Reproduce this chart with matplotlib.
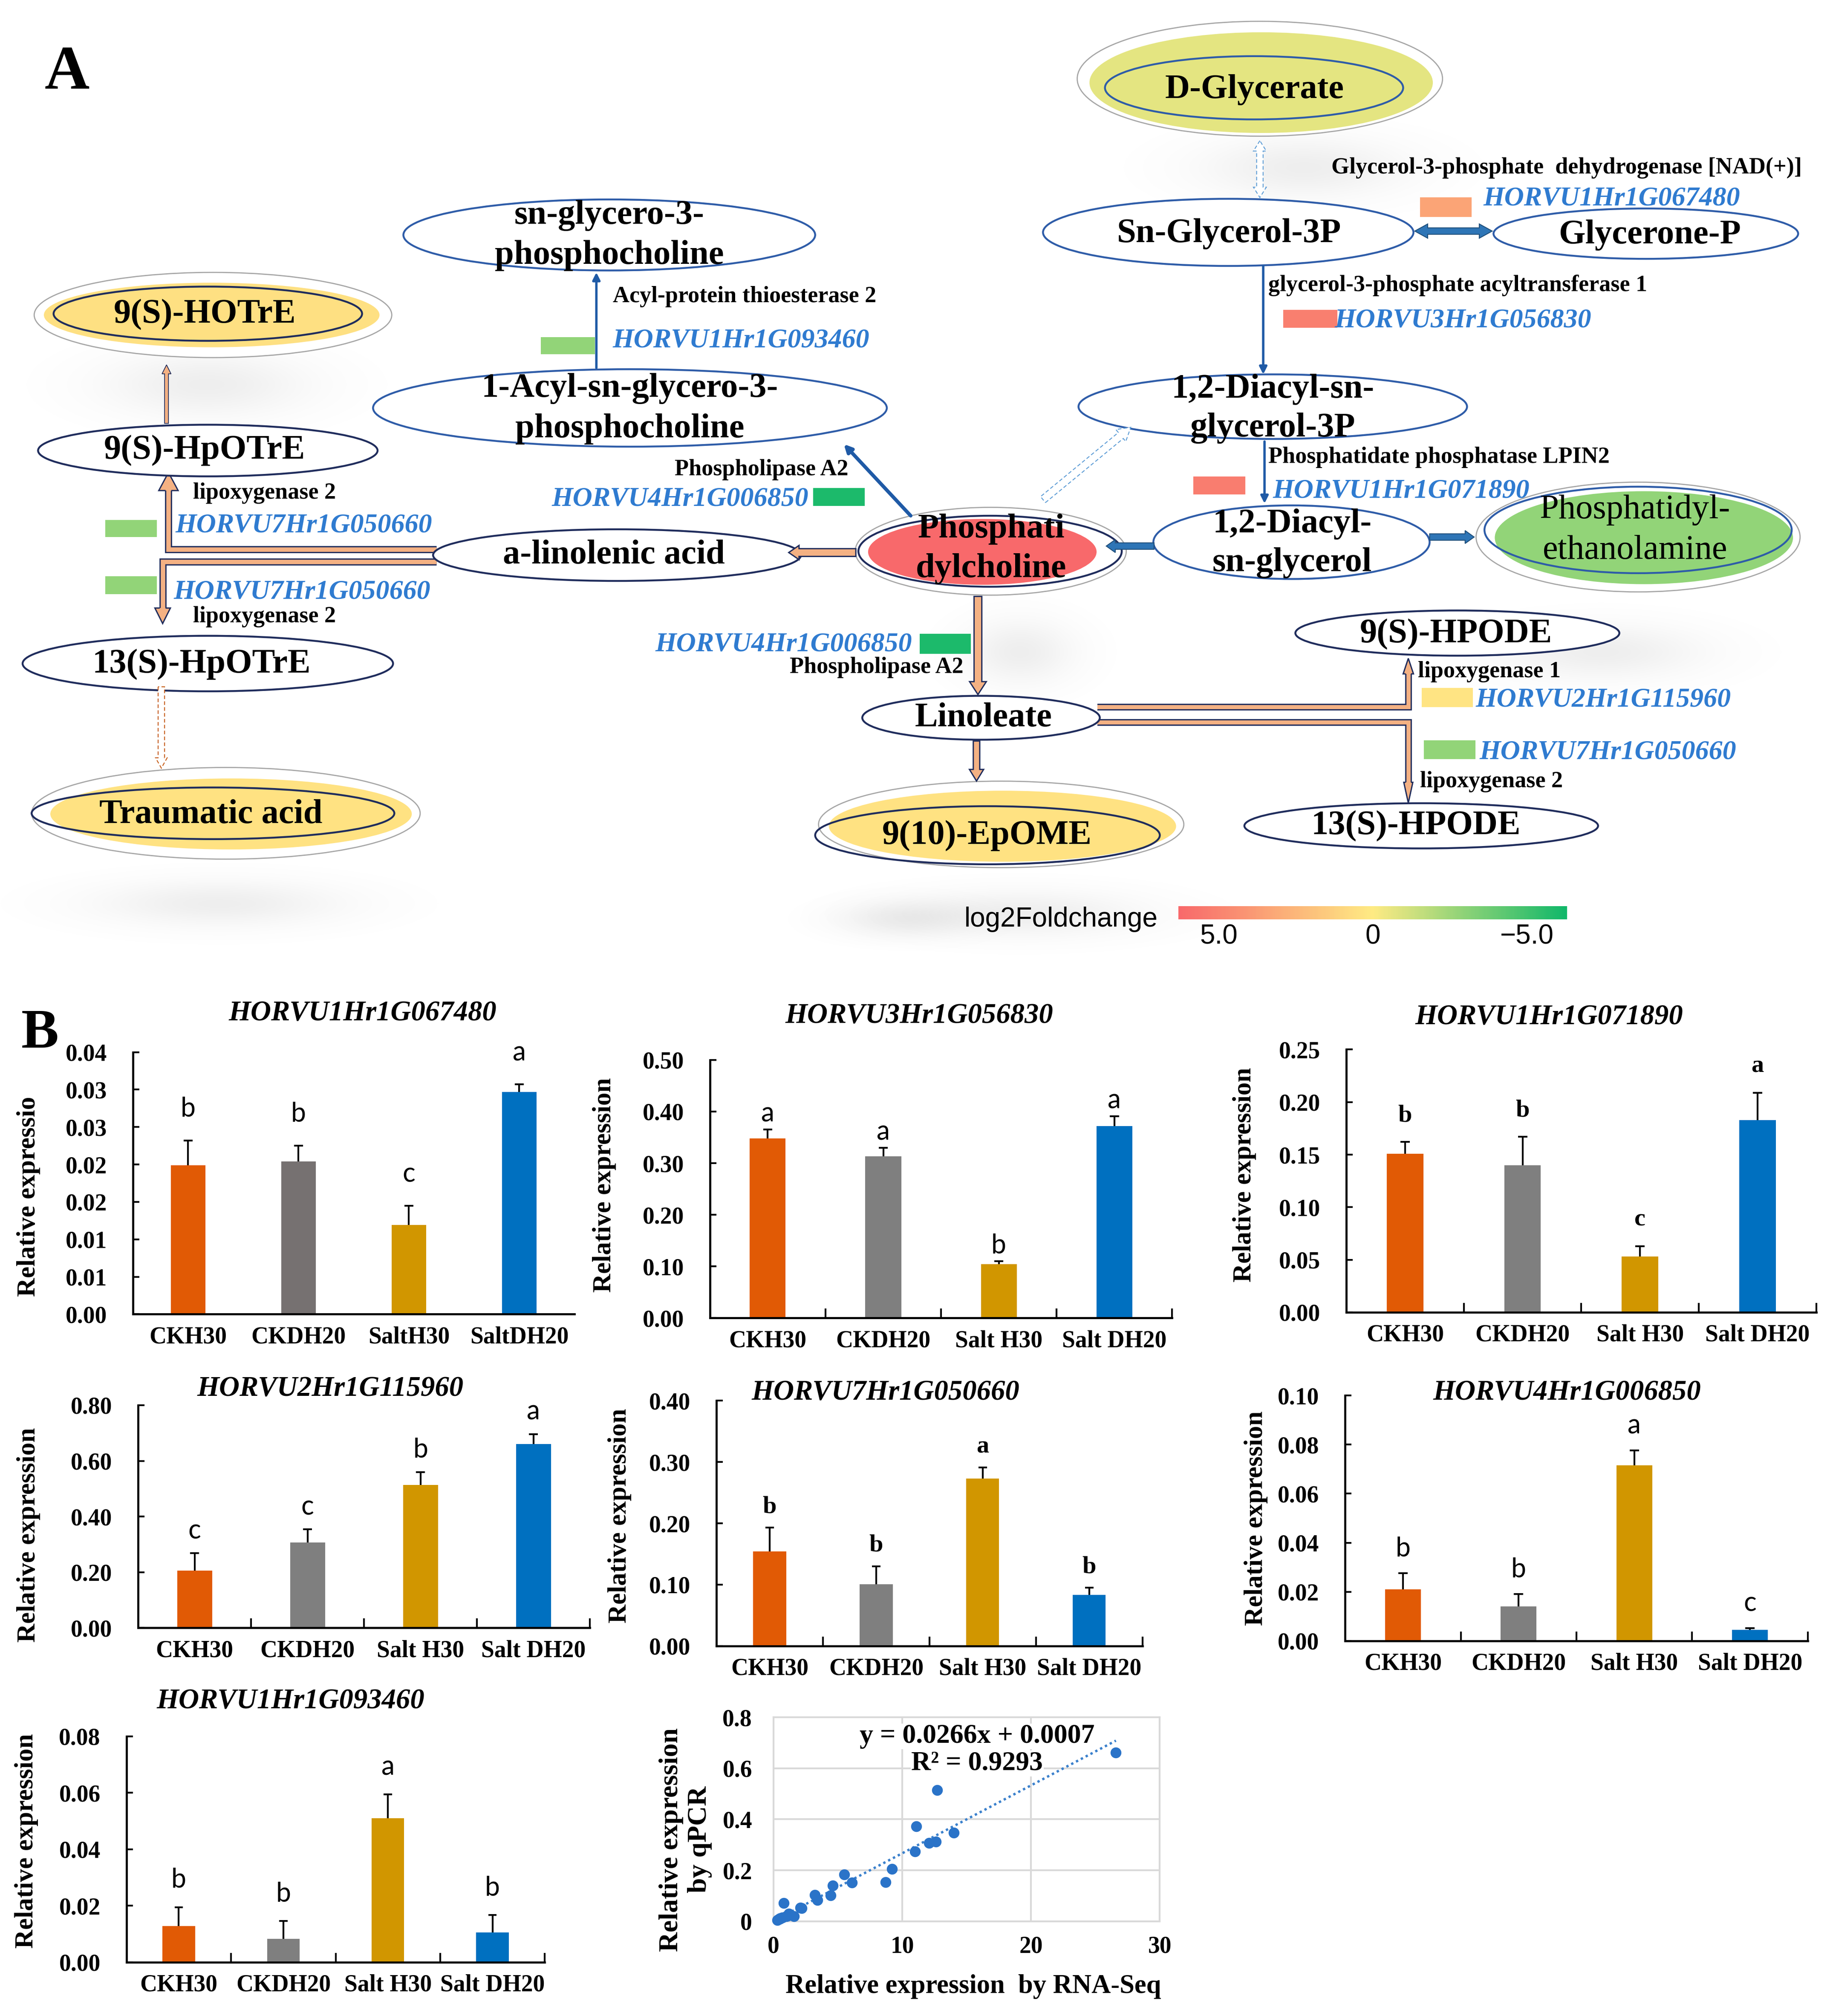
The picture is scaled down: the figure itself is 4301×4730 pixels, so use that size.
import numpy as np
import matplotlib
matplotlib.use('Agg')
import matplotlib.pyplot as plt
from matplotlib.patches import Ellipse, Polygon, Rectangle
from matplotlib.colors import LinearSegmentedColormap, Normalize

W, H = 4301, 4730
K = W / 1420.0            # layout measured on a 1420 px wide preview
PT = K * 72 / 100.0       # one preview unit in points

plt.rcParams['font.family'] = ['Liberation Serif', 'DejaVu Serif']
plt.rcParams['font.weight'] = 'bold'

# ---------------- panel A : log2 fold change ----------------
fc_lim = 6.3
pathway_genes = ['HORVU1Hr1G067480', 'HORVU3Hr1G056830', 'HORVU1Hr1G071890',
                 'HORVU1Hr1G093460', 'HORVU4Hr1G006850', 'HORVU7Hr1G050660',
                 'HORVU2Hr1G115960']
gene_log2fc = [3.4, 5.2, 5.3, -2.9, -6.0, -2.9, 0.3]
metabolites = ['D-Glycerate', '9(S)-HOTrE', 'Traumatic acid', 'Phosphatidylcholine',
               'Phosphatidylethanolamine', '9(10)-EpOME']
metab_log2fc = [-0.7, 0.5, 0.4, 6.3, -2.9, 0.4]
cbar_ticks = [5, 0, -5]
cbar_labels = ['5.0', '0', '\u22125.0']

# ---------------- panel B : qPCR ----------------
cond_short = ['CKH30', 'CKDH20', 'SaltH30', 'SaltDH20']
cond_names = ['CKH30', 'CKDH20', 'Salt H30', 'Salt DH20']
qpcr_genes = ['HORVU1Hr1G067480', 'HORVU3Hr1G056830', 'HORVU1Hr1G071890',
              'HORVU2Hr1G115960', 'HORVU7Hr1G050660', 'HORVU4Hr1G006850',
              'HORVU1Hr1G093460']

mean_067480 = [0.0199, 0.0204, 0.0119, 0.0297]
err_067480 = [0.0033, 0.0021, 0.0026, 0.0010]
sig_067480 = ['b', 'b', 'c', 'a']
mean_056830 = [0.348, 0.313, 0.104, 0.372]
err_056830 = [0.017, 0.017, 0.006, 0.019]
sig_056830 = ['a', 'a', 'b', 'a']
mean_071890 = [0.151, 0.140, 0.053, 0.183]
err_071890 = [0.011, 0.027, 0.010, 0.026]
sig_071890 = ['b', 'b', 'c', 'a']
mean_115960 = [0.206, 0.307, 0.514, 0.661]
err_115960 = [0.062, 0.047, 0.045, 0.035]
sig_115960 = ['c', 'c', 'b', 'a']
mean_050660 = [0.154, 0.101, 0.273, 0.083]
err_050660 = [0.039, 0.029, 0.018, 0.012]
sig_050660 = ['b', 'b', 'a', 'b']
mean_006850 = [0.0210, 0.0141, 0.0715, 0.0044]
err_006850 = [0.0065, 0.0049, 0.0061, 0.0008]
sig_006850 = ['b', 'b', 'a', 'c']
mean_093460 = [0.0128, 0.0083, 0.0510, 0.0105]
err_093460 = [0.0067, 0.0063, 0.0085, 0.0062]
sig_093460 = ['b', 'b', 'a', 'b']

yt_067480 = [0, 0.005, 0.010, 0.015, 0.020, 0.025, 0.030, 0.035]
ytl_067480 = ['0.00', '0.01', '0.01', '0.02', '0.02', '0.03', '0.03', '0.04']
yt_056830 = [0, 0.1, 0.2, 0.3, 0.4, 0.5]
yt_071890 = [0, 0.05, 0.10, 0.15, 0.20, 0.25]
yt_115960 = [0, 0.2, 0.4, 0.6, 0.8]
yt_050660 = [0, 0.1, 0.2, 0.3, 0.4]
yt_006850 = [0, 0.02, 0.04, 0.06, 0.08, 0.10]
yt_093460 = [0, 0.02, 0.04, 0.06, 0.08]

# RNA-seq relative expression for the same genes / conditions (x of the correlation plot)
rnaseq_067480 = [1.6, 1.0, 0.5, 1.2]
rnaseq_056830 = [14.0, 12.6, 3.2, 11.1]
rnaseq_071890 = [6.1, 4.6, 2.1, 5.5]
rnaseq_115960 = [9.2, 12.1, 12.7, 26.6]
rnaseq_050660 = [8.7, 4.45, 11.0, 3.4]
rnaseq_006850 = [1.1, 0.7, 0.8, 0.3]
rnaseq_093460 = [0.6, 0.4, 2.2, 0.5]
trend_slope, trend_icpt = 0.0266, 0.0007

# ---------------- colours ----------------
fc_cmap = LinearSegmentedColormap.from_list('fc', ['#11B86A', '#FFEB84', '#F8696B'])
fc_norm = Normalize(-fc_lim, fc_lim)
gene_col = {g: fc_cmap(fc_norm(v)) for g, v in zip(pathway_genes, gene_log2fc)}
met_col = {m: fc_cmap(fc_norm(v)) for m, v in zip(metabolites, metab_log2fc)}

BLUE = '#2E5CA8'
NAVY = '#1F2C5C'
DBLUE = '#1F5AA6'
ABLUE = '#2E75B6'
ORANGE = '#F4B183'
LBLUE = '#5B9BD5'
BROWN = '#C55A11'
GENE = '#2F7BD0'
RING = '#A6A6A6'

fig = plt.figure(figsize=(W / 100, H / 100), dpi=100)
ax0 = fig.add_axes([0, 0, 1, 1])
ax0.set_axis_off()


def to_fig(x0, y0, x1, y1):
    return [x0 * K / W, 1 - y1 * K / H, (x1 - x0) * K / W, (y1 - y0) * K / H]


def shadow(cx, cy, rx, ry, a=0.13):
    yy, xx = np.mgrid[-1:1:90j, -1:1:180j]
    img = np.zeros((90, 180, 4))
    img[..., :3] = 0.5
    img[..., 3] = a * np.exp(-(xx ** 2 + yy ** 2) * 3.5)
    ax0.imshow(img, extent=[cx - rx, cx + rx, cy + ry, cy - ry], aspect='auto',
               interpolation='bilinear', zorder=0)


def oval(cx, cy, w, h, ec, lw=3.2, fc='white', z=4, alpha=1.0):
    ax0.add_patch(Ellipse((cx, cy), w, h, facecolor=fc, edgecolor=ec, lw=lw,
                          zorder=z, alpha=alpha))


def txt(x, y, s, size=58, ha='center', z=8, **kw):
    ax0.text(x, y, s, fontsize=size, ha=ha, va='center', zorder=z, **kw)


def gene_tag(x, y, gene, rect, ha='left'):
    x0, y0, x1, y1 = rect
    ax0.add_patch(Rectangle((x0, y0), x1 - x0, y1 - y0, facecolor=gene_col[gene],
                            edgecolor='none', zorder=6))
    txt(x, y, gene, size=46, ha=ha, color=GENE, style='italic')


def block_arrow(p0, p1, sw, hw, hl, fc, ec, lw=1.0, ls='-', both=False, z=5):
    p0 = np.array(p0, float)
    p1 = np.array(p1, float)
    d = np.hypot(*(p1 - p0))
    u = (p1 - p0) / d
    n = np.array([-u[1], u[0]])

    def P(s, t):
        return p0 + u * s + n * t
    if both:
        pts = [P(0, 0), P(hl, hw / 2), P(hl, sw / 2), P(d - hl, sw / 2), P(d - hl, hw / 2),
               P(d, 0), P(d - hl, -hw / 2), P(d - hl, -sw / 2), P(hl, -sw / 2), P(hl, -hw / 2)]
    else:
        pts = [P(0, sw / 2), P(d - hl, sw / 2), P(d - hl, hw / 2), P(d, 0),
               P(d - hl, -hw / 2), P(d - hl, -sw / 2), P(0, -sw / 2)]
    ax0.add_patch(Polygon(pts, closed=True, facecolor=fc, edgecolor=ec, lw=lw * PT,
                          ls=ls, joinstyle='miter', zorder=z))


def thin_arrow(p0, p1, lw=4.0, ms=26):
    ax0.annotate('', xy=p1, xytext=p0, zorder=5,
                 arrowprops=dict(arrowstyle='-|>', color=DBLUE, lw=lw, mutation_scale=ms,
                                 shrinkA=0, shrinkB=0))


def channel(pts, w=5.5, hw=14, hl=13):
    p = np.array(pts, float)
    tip = p[-1]
    u = tip - p[-2]
    u = u / np.hypot(*u)
    n = np.array([-u[1], u[0]])
    base = tip - u * hl
    body = p.copy()
    body[-1] = base + u * 0.6
    ax0.plot(body[:, 0], body[:, 1], color=NAVY, lw=w * PT, solid_joinstyle='miter',
             solid_capstyle='butt', zorder=3)
    ax0.plot(body[:, 0], body[:, 1], color=ORANGE, lw=(w - 2.0) * PT, solid_joinstyle='miter',
             solid_capstyle='butt', zorder=3)
    ax0.add_patch(Polygon([base + n * hw / 2, tip, base - n * hw / 2], closed=True,
                          facecolor=ORANGE, edgecolor='none', zorder=3))
    edge = np.array([base + n * w / 2, base + n * hw / 2, tip, base - n * hw / 2, base - n * w / 2])
    ax0.plot(edge[:, 0], edge[:, 1], color=NAVY, lw=1.0 * PT, solid_joinstyle='miter', zorder=3)


# ---------------- panel A ----------------
for cx, cy, rx, ry in [(160, 298, 140, 45), (1010, 130, 140, 42), (790, 505, 75, 45),
                       (1240, 505, 140, 38), (170, 700, 170, 32), (790, 708, 170, 32),
                       (700, 712, 90, 25)]:
    shadow(cx, cy, rx, ry)

txt(52, 57, 'A', size=105)

# D-Glycerate
oval(976, 61, 283, 89, RING, lw=2)
oval(977, 64, 266, 78, 'none', lw=0, fc=met_col['D-Glycerate'], z=4.1)
oval(971.5, 68, 231, 49, BLUE, fc='none', z=4.2)
txt(972, 69.5, 'D-Glycerate')

# glycerol branch
oval(951.5, 180, 287, 52, BLUE)
txt(952, 181, 'Sn-Glycerol-3P')
oval(1275, 181, 236, 39, BLUE)
txt(1278, 182, 'Glycerone-P')
block_arrow((976, 109), (976, 153), 5, 10, 8, 'white', LBLUE, lw=0.7, ls=(0, (4, 2.5)), both=True)
block_arrow((1096, 179), (1156, 179), 5, 11, 10, ABLUE, '#1F4E79', lw=0.7, both=True)
txt(1031.5, 130, 'Glycerol-3-phosphate  dehydrogenase [NAD(+)]', size=39, ha='left')
gene_tag(1149, 154, 'HORVU1Hr1G067480', (1100, 153, 1140, 168))

thin_arrow((978.6, 206), (978.6, 290))
txt(982.6, 221, 'glycerol-3-phosphate acyltransferase 1', size=39, ha='left')
gene_tag(1034, 248.6, 'HORVU3Hr1G056830', (994, 240, 1036, 254))

oval(986, 315, 301, 50, BLUE)
txt(986, 301.6, '1,2-Diacyl-sn-')
txt(986, 331.6, 'glycerol-3P')

thin_arrow((979.6, 342), (979.6, 390))
txt(982.6, 354.4, 'Phosphatidate phosphatase LPIN2', size=39, ha='left')
gene_tag(986, 380.6, 'HORVU1Hr1G071890', (924.5, 369, 964.7, 383))

oval(1000.5, 420, 214, 57, BLUE)
txt(1001, 406, '1,2-Diacyl-')
txt(1001, 436, 'sn-glycerol')

# phosphatidylethanolamine
oval(1269, 416, 251, 85, RING, lw=2)
oval(1273.5, 416.5, 231, 72, 'none', lw=0, fc=met_col['Phosphatidylethanolamine'], z=4.1)
oval(1269, 410.5, 238, 67, BLUE, fc='none', z=4.2)
txt(1266.6, 395, 'Phosphatidyl-', weight='normal')
txt(1266.6, 426.4, 'ethanolamine', weight='normal')
block_arrow((1107.5, 416), (1142, 416), 5, 10, 7, ABLUE, '#1F4E79', lw=0.7)

# phosphatidylcholine
oval(767.5, 427, 210, 68, RING, lw=2)
oval(761, 427.5, 177, 51, 'none', lw=0, fc=met_col['Phosphatidylcholine'], z=4.1)
oval(767, 427, 204, 55, NAVY, fc='none', z=4.2)
txt(767.8, 410, 'Phosphati')
txt(767.8, 440.6, 'dylcholine')
block_arrow((894, 423), (857, 423), 5, 10, 7, ABLUE, '#1F4E79', lw=0.7)
block_arrow((808, 387), (876, 331), 6, 12, 10, 'white', LBLUE, lw=0.7, ls=(0, (4, 2.5)))
thin_arrow((705.5, 399.5), (653.7, 344), lw=6)

# acyl branch
oval(472, 182, 319, 55, BLUE)
txt(472, 167, 'sn-glycero-3-')
txt(472, 198, 'phosphocholine')
oval(488, 316, 398, 60, BLUE)
txt(488, 300.8, '1-Acyl-sn-glycero-3-')
txt(488, 332.4, 'phosphocholine')
thin_arrow((462, 285), (462, 211))
txt(474.6, 229.7, 'Acyl-protein thioesterase 2', size=39, ha='left')
gene_tag(474.6, 263.8, 'HORVU1Hr1G093460', (419, 261, 461, 274.5))
txt(590, 363.9, 'Phospholipase A2', size=39)
gene_tag(626.3, 386.7, 'HORVU4Hr1G006850', (630, 378, 670, 392), ha='right')

# linolenic branch
oval(478, 430, 285, 40, NAVY)
txt(475.5, 430, 'a-linolenic acid')
block_arrow((663, 428), (611, 428), 6, 11, 8, ORANGE, NAVY, lw=1.0)
channel([(338, 425.5), (130.5, 425.5), (130.5, 366)], hw=15, hl=14)
channel([(338, 435), (126, 435), (126, 483)], hw=12, hl=12)
txt(149.5, 382, 'lipoxygenase 2', size=39, ha='left')
gene_tag(135.9, 407.2, 'HORVU7Hr1G050660', (81.5, 402.8, 121.4, 416))
gene_tag(134.5, 458.7, 'HORVU7Hr1G050660', (81.5, 446.4, 121.4, 460.2))
txt(149.5, 477.7, 'lipoxygenase 2', size=39, ha='left')

oval(161, 349, 263, 40, NAVY)
txt(158.5, 349, '9(S)-HpOTrE')
block_arrow((129, 328), (129, 282.6), 3, 7, 7, ORANGE, NAVY, lw=0.6)
oval(165, 244, 277, 66, RING, lw=2)
oval(164, 244, 260, 50, 'none', lw=0, fc=met_col['9(S)-HOTrE'], z=4.1)
oval(161, 243, 239, 42, NAVY, fc='none', z=4.2)
txt(158.5, 243.9, '9(S)-HOTrE')

oval(161, 514, 287, 43, NAVY)
txt(156, 515, '13(S)-HpOTrE')
block_arrow((125, 532), (125, 595), 5, 9, 8, 'white', BROWN, lw=0.7, ls=(0, (4, 2.5)))
oval(175, 630, 301, 71, RING, lw=2)
oval(179, 630.5, 280, 55, 'none', lw=0, fc=met_col['Traumatic acid'], z=4.1)
oval(165, 630, 281, 40, NAVY, fc='none', z=4.2)
txt(163.5, 631, 'Traumatic acid')

# linoleate branch
block_arrow((757.6, 462), (757.6, 538), 6, 13, 10, ORANGE, NAVY, lw=1.0)
gene_tag(706.5, 499.5, 'HORVU4Hr1G006850', (712.5, 491, 752, 506.5), ha='right')
txt(611.8, 517, 'Phospholipase A2', size=39, ha='left')
oval(760, 556, 184, 34, NAVY)
txt(762, 556, 'Linoleate')
block_arrow((756.5, 574), (756.5, 605), 5, 11, 9, ORANGE, NAVY, lw=1.0)
oval(775.6, 638.6, 283, 67, RING, lw=2)
oval(776.6, 640, 269, 55, 'none', lw=0, fc=met_col['9(10)-EpOME'], z=4.1)
oval(765, 647, 267, 45, NAVY, fc='none', z=4.2)
txt(764.5, 647.7, '9(10)-EpOME')

channel([(850, 547.6), (1091, 547.6), (1091, 510)], w=5.2, hw=8, hl=12)
channel([(850, 559.7), (1091, 559.7), (1091, 622)], w=5.2, hw=7, hl=16)
oval(1129, 490.4, 251, 35, NAVY)
txt(1127.8, 491.4, '9(S)-HPODE')
oval(1101, 639.7, 274, 35, NAVY)
txt(1097, 640, '13(S)-HPODE')
txt(1098.5, 520.4, 'lipoxygenase 1', size=39, ha='left')
gene_tag(1143, 542.4, 'HORVU2Hr1G115960', (1101.5, 533, 1141, 547.7))
gene_tag(1146, 582.9, 'HORVU7Hr1G050660', (1103, 573.6, 1143, 588))
txt(1100, 605.5, 'lipoxygenase 2', size=39, ha='left')

# colour key
txt(747, 712, 'log2Foldchange', size=46, ha='left', family='Liberation Sans', weight='normal')
cax = fig.add_axes(to_fig(913, 702, 1214, 712))
grad = np.linspace(fc_lim, -fc_lim, 300)[None, :]
cax.imshow(grad, aspect='auto', cmap=fc_cmap, norm=fc_norm, extent=[fc_lim, -fc_lim, 0, 1])
cax.set_xlim(fc_lim, -fc_lim)
cax.set_yticks([])
cax.set_xticks(cbar_ticks)
cax.set_xticklabels(cbar_labels, fontsize=46, family='Liberation Sans', weight='normal')
cax.tick_params(axis='x', length=0, pad=8)
for s in cax.spines.values():
    s.set_visible(False)

# ---------------- panel B ----------------
txt(31, 801, 'B', size=95)

panels = [
    (mean_067480, err_067480, sig_067480, yt_067480, ytl_067480, cond_short, '#767171', 'Relative expressio'),
    (mean_056830, err_056830, sig_056830, yt_056830, None, cond_names, '#7F7F7F', 'Relative expression'),
    (mean_071890, err_071890, sig_071890, yt_071890, None, cond_names, '#7F7F7F', 'Relative expression'),
    (mean_115960, err_115960, sig_115960, yt_115960, None, cond_names, '#7F7F7F', 'Relative expression'),
    (mean_050660, err_050660, sig_050660, yt_050660, None, cond_names, '#7F7F7F', 'Relative expression'),
    (mean_006850, err_006850, sig_006850, yt_006850, None, cond_names, '#7F7F7F', 'Relative expression'),
    (mean_093460, err_093460, sig_093460, yt_093460, None, cond_names, '#7F7F7F', 'Relative expression'),
]
bar_boxes = [(103, 815, 445, 1018), (550, 821, 908, 1021), (1043, 813, 1407, 1016.5),
             (107, 1088.5, 457, 1261), (555, 1085, 885, 1275), (1042, 1081, 1400.5, 1271),
             (98, 1345, 422, 1520)]
title_xy = [(281, 785), (712, 787), (1200, 788), (256, 1076), (686, 1079), (1214, 1079), (225, 1318)]
ylab_xy = [(22, 927), (468, 918), (964, 910), (22, 1189), (480, 1174), (973, 1176), (20.5, 1426)]
sig_pad = [0.12, 0.06, 0.10, 0.10, 0.085, 0.10, 0.12]
sig_serif = [False, False, True, False, True, False, False]

for i, (means, errs, sig, yt, ytl, xl, gray, ylab) in enumerate(panels):
    ax = fig.add_axes(to_fig(*bar_boxes[i]))
    ax.patch.set_visible(False)
    x = np.arange(4)
    ax.bar(x, means, width=0.31, color=['#E15A05', gray, '#D19600', '#0070C0'], zorder=2)
    tops = np.array(means) + np.array(errs)
    ax.vlines(x, means, tops, color='black', lw=3, zorder=3)
    ax.hlines(tops, x - 0.04, x + 0.04, color='black', lw=3, zorder=3)
    ymax = yt[-1]
    for xi, t, s in zip(x, tops, sig):
        if sig_serif[i]:
            ax.text(xi, t + sig_pad[i] * ymax, s, ha='center', va='center', fontsize=42, clip_on=False)
        else:
            ax.text(xi, t + sig_pad[i] * ymax, s, ha='center', va='center', fontsize=45,
                    family=['Lato', 'DejaVu Sans'], weight='normal', clip_on=False)
    ax.set_xlim(-0.5, 3.5)
    ax.set_ylim(0, ymax)
    ax.set_yticks(yt)
    ax.set_yticklabels(ytl if ytl else ['%.2f' % v for v in yt])
    ax.set_xticks(x)
    ax.set_xticklabels(xl)
    ax.tick_params(axis='y', direction='in', length=11, width=3, pad=44, labelsize=40)
    ax.tick_params(axis='x', length=0, pad=20, labelsize=40)
    if i > 0:
        ax.set_xticks([0.5, 1.5, 2.5, 3.5], minor=True)
        ax.tick_params(axis='x', which='minor', direction='in', length=16, width=3)
    for s in ['top', 'right']:
        ax.spines[s].set_visible(False)
    for s in ['left', 'bottom']:
        ax.spines[s].set_linewidth(3.5)
    tx, ty = title_xy[i]
    txt(tx, ty, qpcr_genes[i], size=48, style='italic')
    lx, ly = ylab_xy[i]
    txt(lx, ly, ylab, size=44, rotation=90)

# qPCR vs RNA-seq
qpcr_all = mean_067480 + mean_056830 + mean_071890 + mean_115960 + mean_050660 + mean_006850 + mean_093460
rnaseq_all = rnaseq_067480 + rnaseq_056830 + rnaseq_071890 + rnaseq_115960 + rnaseq_050660 + rnaseq_006850 + rnaseq_093460
axs = fig.add_axes(to_fig(599.2, 1330.2, 898.4, 1488.3))
axs.patch.set_visible(False)
axs.scatter(rnaseq_all, qpcr_all, s=300, color='#2A73C8', zorder=3, clip_on=False)
xx = np.array([min(rnaseq_all), max(rnaseq_all)])
axs.plot(xx, trend_slope * xx + trend_icpt, ls=(0, (1, 1.3)), color='#3A80CC', lw=4, zorder=2)
axs.set_xlim(0, 30)
axs.set_ylim(0, 0.8)
axs.set_xticks([0, 10, 20, 30])
axs.set_xticklabels(['0', '10', '20', '30'])
axs.set_yticks([0, 0.2, 0.4, 0.6, 0.8])
axs.set_yticklabels(['0', '0.2', '0.4', '0.6', '0.8'])
axs.grid(color='#D9D9D9', lw=3, zorder=0)
axs.set_axisbelow(True)
for s in axs.spines.values():
    s.set_color('#D9D9D9')
    s.set_linewidth(3)
axs.tick_params(length=0, labelsize=40)
axs.tick_params(axis='y', pad=36)
axs.tick_params(axis='x', pad=24)
box = dict(facecolor='white', edgecolor='none', pad=1)
for yy, s in [(1345, 'y = 0.0266x + 0.0007'), (1366, 'R\u00b2 = 0.9293')]:
    axs.text(757, yy, s, transform=ax0.transData, fontsize=46, ha='center', va='center',
             bbox=box, zorder=6, clip_on=False)
txt(754, 1539, 'Relative expression  by RNA-Seq', size=45)
txt(531, 1425, 'Relative expression\nby qPCR', size=46, rotation=90, multialignment='center')

ax0.set_xlim(0, W / K)
ax0.set_ylim(H / K, 0)

fig.savefig('out.png', dpi=100)
